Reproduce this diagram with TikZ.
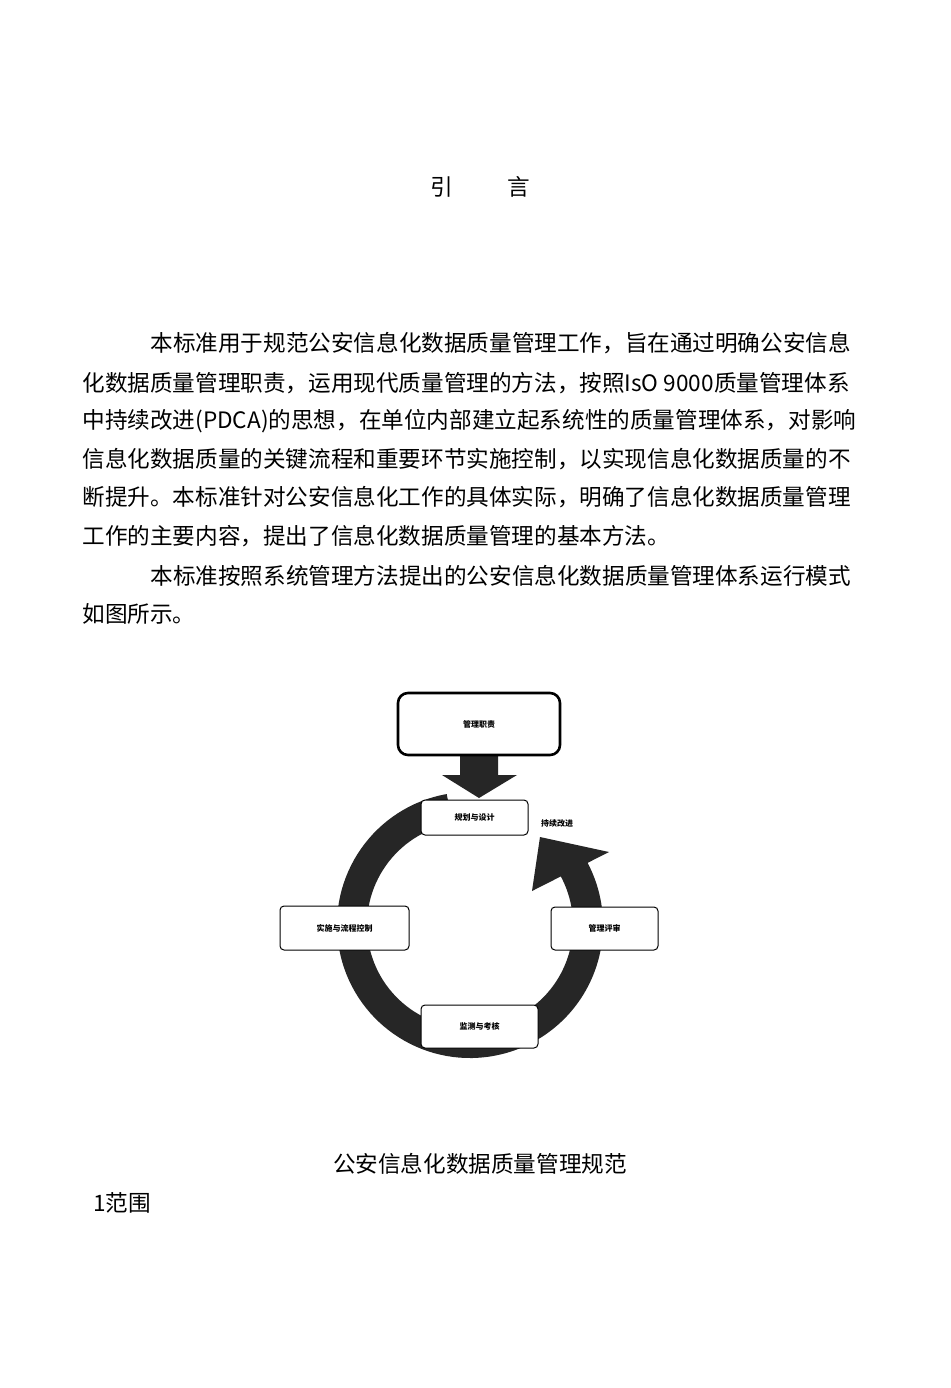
\documentclass[tikz,border=0pt]{standalone}
\usepackage{fontspec}
\setmainfont{Noto Sans CJK SC}
\newfontfamily\cjk{Noto Sans CJK SC}
\begin{document}
\begin{tikzpicture}[x=0.5pt,y=-0.5pt,
  body/.style={anchor=base west,inner sep=0,font=\fontsize{11.3pt}{13pt}\selectfont},
  box/.style={draw,line width=0.5pt,rounded corners=2pt,fill=white,font=\fontsize{4pt}{5pt}\selectfont\bfseries}]
\useasboundingbox[fill=white] (0,0) rectangle (950,1388);
\node[body] (t1) at (430,195) {引};
\node[body] (t2) at (507,195) {言};
\node[body] (l1) at (150,351) {本标准用于规范公安信息化数据质量管理工作，旨在通过明确公安信息};
\node[body] (l2) at (82,391) {化数据质量管理职责，运用现代质量管理的方法，按照IsO 9000质量管理体系};
\node[body] (l3) at (82,428) {中持续改进(PDCA)的思想，在单位内部建立起系统性的质量管理体系，对影响};
\node[body] (l4) at (82,467) {信息化数据质量的关键流程和重要环节实施控制，以实现信息化数据质量的不};
\node[body] (l5) at (82,505) {断提升。本标准针对公安信息化工作的具体实际，明确了信息化数据质量管理};
\node[body] (l6) at (82,544) {工作的主要内容，提出了信息化数据质量管理的基本方法。};
\node[body] (l7) at (150,584) {本标准按照系统管理方法提出的公安信息化数据质量管理体系运行模式};
\node[body] (l8) at (82,622) {如图所示。};
% ring
\coordinate (c) at (470,925);
\draw[line width=15pt,black!85] (c) ++(-100:118) arc[start angle=-100,end angle=-392,radius=118];
\fill[black!85] (540,837) -- (609,852) -- (532,891) -- cycle;
% down arrow
\fill[black!85] (460,755) -- (498,755) -- (498,775) -- (517,775) -- (479,798) -- (442,775) -- (460,775) -- cycle;
\node[box,line width=1.3pt,rounded corners=5pt,minimum width=81pt,minimum height=31pt] (mr) at (479,724) {管理职责};
\node[box,minimum width=53.5pt,minimum height=17.5pt] (gh) at (474.5,817.5) {规划与设计};
\node[box,minimum width=64.5pt,minimum height=22pt] (ss) at (344.5,928) {实施与流程控制};
\node[box,minimum width=53.5pt,minimum height=21.5pt] (ps) at (604.5,928.5) {管理评审};
\node[box,minimum width=58.5pt,minimum height=21.5pt] (jc) at (479.5,1026.5) {监测与考核};
\node[font=\fontsize{4pt}{5pt}\selectfont\bfseries,inner sep=0] (cx) at (557,823) {持续改进};
\node[body,anchor=base] (bt) at (480,1172) {公安信息化数据质量管理规范};
\node[body] (s1) at (93,1211) {1范围};
\end{tikzpicture}
\end{document}
